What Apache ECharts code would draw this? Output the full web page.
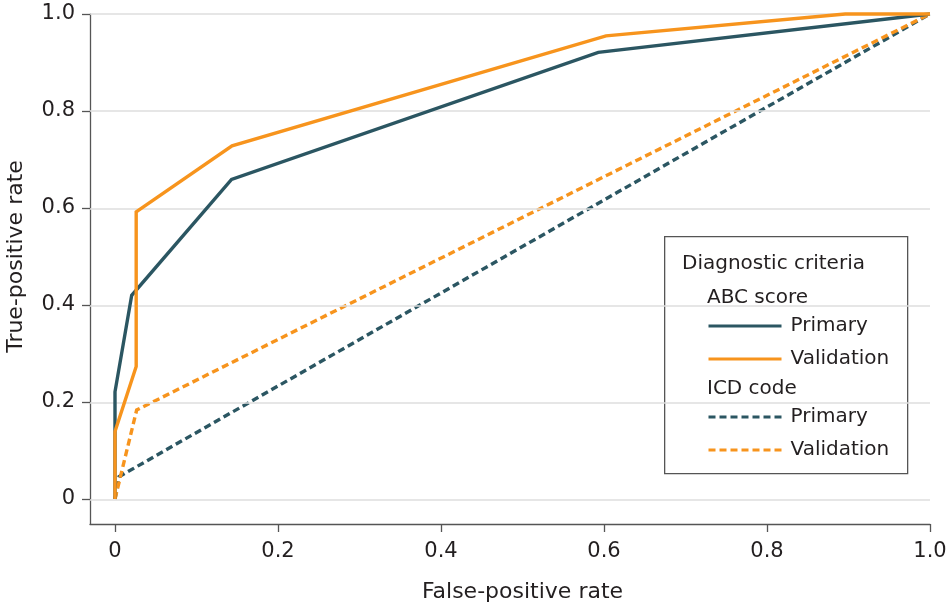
<!DOCTYPE html>
<html>
<head>
<meta charset="utf-8">
<script src="https://cdn.jsdelivr.net/npm/echarts@6/dist/echarts.min.js"></script>
<style>
html,body{margin:0;padding:0;background:#fff;}
#chart{width:951px;height:610px;}
</style>
</head>
<body>
<div id="chart"></div>
<script>
// ---- data ----
var tickStep = 0.2;
var yGridValues = [0, 0.2, 0.4, 0.6, 0.8, 1.0];
var xTickLabels = ['0', '0.2', '0.4', '0.6', '0.8', '1.0'];
var yTickLabels = ['0', '0.2', '0.4', '0.6', '0.8', '1.0'];

var abcPrimary = [[0, 0], [0, 0.221], [0.0205, 0.42], [0.143, 0.659], [0.593, 0.921], [1, 1]];
var abcValidation = [[0, 0], [0, 0.139], [0.026, 0.273], [0.026, 0.592], [0.1436, 0.728], [0.6025, 0.955], [0.896, 1], [1, 1]];
var icdPrimary = [[0, 0], [0.005, 0.046], [1, 1]];
var icdValidation = [[0, 0], [0.0266, 0.1835], [1, 1]];

var seriesNames = ['ABC Primary', 'ABC Validation', 'ICD Primary', 'ICD Validation'];
var legendLabels = {'ABC Primary': 'Primary', 'ABC Validation': 'Validation', 'ICD Primary': 'Primary', 'ICD Validation': 'Validation'};

var TEAL = '#2b5662';
var ORANGE = '#f7941d';
var TXT = '#231f20';
var AXIS = '#555';
var FONT = '"DejaVu Sans", sans-serif';

function labelFor(list) {
  return function (v) { var i = Math.round(v / tickStep); return list[i] !== undefined ? list[i] : ''; };
}

var chart = echarts.init(document.getElementById('chart'), null, {renderer: 'canvas'});

function lineSeries(name, data, color, dashed, z) {
  return {
    name: name, type: 'line', data: data, symbol: 'none', showSymbol: false,
    xAxisIndex: 0, yAxisIndex: 0,
    clip: false, z: z, animation: false,
    lineStyle: {color: color, width: 3.4, type: dashed ? [7, 4] : 'solid', cap: 'butt', join: 'miter'},
    itemStyle: {color: color}
  };
}

function legendBlock(names, top) {
  return {
    data: names, orient: 'vertical', left: 707, top: top,
    itemWidth: 73, itemHeight: 14, itemGap: 13, padding: 0,
    formatter: function (n) { return legendLabels[n]; },
    itemStyle: {opacity: 0, borderWidth: 0},
    lineStyle: {width: 3},
    textStyle: {fontSize: 20, color: TXT, fontFamily: FONT, padding: [0, 0, 0, 4]},
    selectedMode: false
  };
}

var option = {
  backgroundColor: '#fff',
  animation: false,
  grid: [
    // data area: 0..1 on both axes
    {left: 115, right: 21, top: 14, bottom: 111, containLabel: false, outerBoundsMode: 'none'},
    // frame area: includes the padding below/left of 0
    {left: 90, right: 21, top: 14, bottom: 86, containLabel: false, outerBoundsMode: 'none'}
  ],
  xAxis: [
    {
      gridIndex: 0, type: 'value', min: 0, max: 1.0, interval: tickStep, offset: 25,
      name: 'False-positive rate', nameLocation: 'middle', nameGap: 57,
      nameTextStyle: {fontSize: 22, color: TXT, fontFamily: FONT},
      axisLine: {show: false, onZero: false},
      axisTick: {show: true, length: 8, lineStyle: {color: AXIS, width: 1.3}},
      axisLabel: {show: true, fontSize: 21, color: TXT, fontFamily: FONT, margin: 17, formatter: labelFor(xTickLabels), showMinLabel: true, showMaxLabel: true},
      splitLine: {show: false}
    },
    {
      gridIndex: 1, type: 'value', min: -0.03, max: 1.0,
      axisLine: {show: true, onZero: false, lineStyle: {color: AXIS, width: 1.3}},
      axisTick: {show: false}, axisLabel: {show: false}, splitLine: {show: false}
    }
  ],
  yAxis: [
    {
      gridIndex: 0, type: 'value', min: 0, max: 1.0, interval: tickStep, offset: 25,
      name: 'True-positive rate', nameLocation: 'middle', nameGap: 63,
      nameTextStyle: {fontSize: 22, color: TXT, fontFamily: FONT},
      axisLine: {show: false, onZero: false},
      axisTick: {show: true, length: 8, lineStyle: {color: AXIS, width: 1.3}},
      axisLabel: {show: true, fontSize: 21, color: TXT, fontFamily: FONT, margin: 15, padding: [8, 0, 0, 0], formatter: labelFor(yTickLabels), showMinLabel: true, showMaxLabel: true},
      splitLine: {show: false}
    },
    {
      gridIndex: 1, type: 'value', min: -0.05, max: 1.0,
      axisLine: {show: true, onZero: false, lineStyle: {color: AXIS, width: 1.3}},
      axisTick: {show: false}, axisLabel: {show: false}, splitLine: {show: false}
    }
  ],
  legend: [
    legendBlock([seriesNames[0], seriesNames[1]], 316),
    legendBlock([seriesNames[2], seriesNames[3]], 407)
  ],
  graphic: [
    {type: 'rect', left: 664, top: 236, z: 0, shape: {width: 243, height: 237},
     style: {fill: '#fff', stroke: AXIS, lineWidth: 1.3}},
    {type: 'text', left: 682, top: 254, z: 10, style: {text: 'Diagnostic criteria', fontSize: 20, fill: TXT, fontFamily: FONT}},
    {type: 'text', left: 707, top: 288, z: 10, style: {text: 'ABC score', fontSize: 20, fill: TXT, fontFamily: FONT}},
    {type: 'text', left: 707, top: 379, z: 10, style: {text: 'ICD code', fontSize: 20, fill: TXT, fontFamily: FONT}}
  ],
  series: [
    {
      name: 'grid', type: 'line', data: [], z: 1, silent: true, animation: false,
      xAxisIndex: 1, yAxisIndex: 1,
      markLine: {
        silent: true, symbol: ['none', 'none'], animation: false,
        label: {show: false},
        lineStyle: {color: '#dedede', width: 1.5, type: 'solid'},
        emphasis: {disabled: true},
        data: yGridValues.map(function (v) { return {yAxis: v}; })
      }
    },
    lineSeries(seriesNames[2], icdPrimary, TEAL, true, 3),
    lineSeries(seriesNames[3], icdValidation, ORANGE, true, 4),
    lineSeries(seriesNames[0], abcPrimary, TEAL, false, 5),
    lineSeries(seriesNames[1], abcValidation, ORANGE, false, 6)
  ]
};
chart.setOption(option);
</script>
</body>
</html>
